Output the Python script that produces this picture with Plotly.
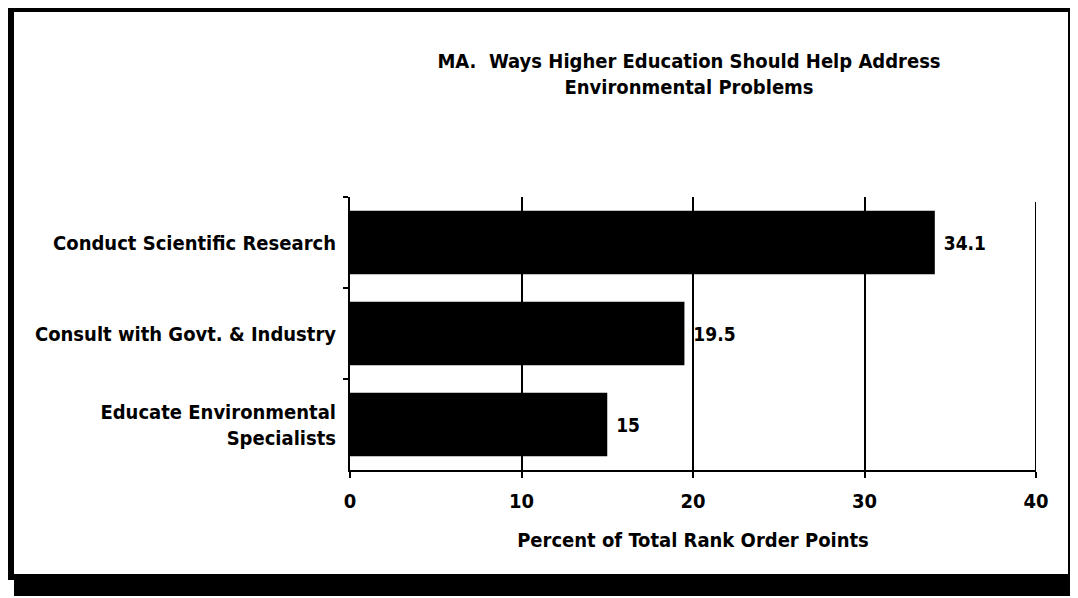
import plotly.graph_objects as go

categories = ["Conduct Scientific Research", "Consult with Govt. & Industry",
              "Educate Environmental<br>Specialists"]
values = [34.1, 19.5, 15]
x_ticks = [0, 10, 20, 30, 40]

OFF = 8  # page body margin offset
W, H = 1078 - OFF, 598 - OFF
L, R, T, B = 350 - OFF, 1036 - OFF, 197 - OFF, 470 - OFF

def px(x):
    return (x - OFF - L) / (R - L)

def py(y):
    return (B - (y - OFF)) / (B - T)

FONT = "DejaVu Sans Condensed, Liberation Sans Narrow, Arial Narrow, sans-serif"
FS = 20

fig = go.Figure(go.Bar(
    y=categories, x=values, orientation="h",
    marker=dict(color="black", line=dict(width=0)),
    texttemplate=" %{x}", textposition="outside",
    textfont=dict(size=19, color="black", family=FONT, weight="bold"),
    cliponaxis=False, width=0.7,
))

shapes = [
    dict(type="line", xref="paper", yref="paper", x0=px(8), x1=px(1074), y0=py(9), y1=py(9),
         line=dict(color="black", width=6)),
    dict(type="line", xref="paper", yref="paper", x0=px(11), x1=px(11), y0=py(7), y1=py(580),
         line=dict(color="black", width=6)),
    dict(type="line", xref="paper", yref="paper", x0=px(1072), x1=px(1072), y0=py(12), y1=py(592),
         line=dict(color="black", width=8)),
    dict(type="rect", xref="paper", yref="paper", x0=px(14), x1=px(1078), y0=py(574), y1=py(596),
         fillcolor="black", line=dict(width=0)),
    dict(type="line", xref="x", yref="paper", x0=x_ticks[-1], x1=x_ticks[-1], y0=0, y1=py(202),
         line=dict(color="black", width=2)),
]

fig.update_layout(
    width=W, height=H,
    margin=dict(l=L, r=W - R, t=T, b=H - B, autoexpand=False),
    paper_bgcolor="white", plot_bgcolor="white",
    showlegend=False,
    font=dict(family=FONT, color="black", size=FS, weight="bold"),
    title=dict(text="MA.  Ways Higher Education Should Help Address<br>Environmental Problems",
               xref="container", x=(689 - OFF) / W, xanchor="center",
               yref="container", y=1 - (68 - OFF) / H, yanchor="middle",
               font=dict(size=FS, family=FONT, color="black", weight="bold")),
    shapes=shapes,
    xaxis=dict(range=[0, 40], tickvals=x_ticks, showgrid=True, gridcolor="black", gridwidth=2,
               showline=True, linecolor="black", linewidth=2, mirror=False,
               ticks="outside", ticklen=6, tickcolor="black", tickwidth=2,
               ticklabelstandoff=6, zeroline=False, automargin=False,
               tickfont=dict(size=FS, family=FONT, weight="bold"),
               title=dict(text="Percent of Total Rank Order Points", standoff=21,
                          font=dict(size=FS, family=FONT, weight="bold"))),
    yaxis=dict(autorange="reversed", showline=True, linecolor="black", linewidth=2,
               ticks="outside", tickson="boundaries", ticklen=5, tickcolor="black", tickwidth=2,
               ticklabelstandoff=8, showgrid=False, automargin=False,
               tickfont=dict(size=FS, family=FONT, weight="bold")),
)

fig.write_html("out.html")
